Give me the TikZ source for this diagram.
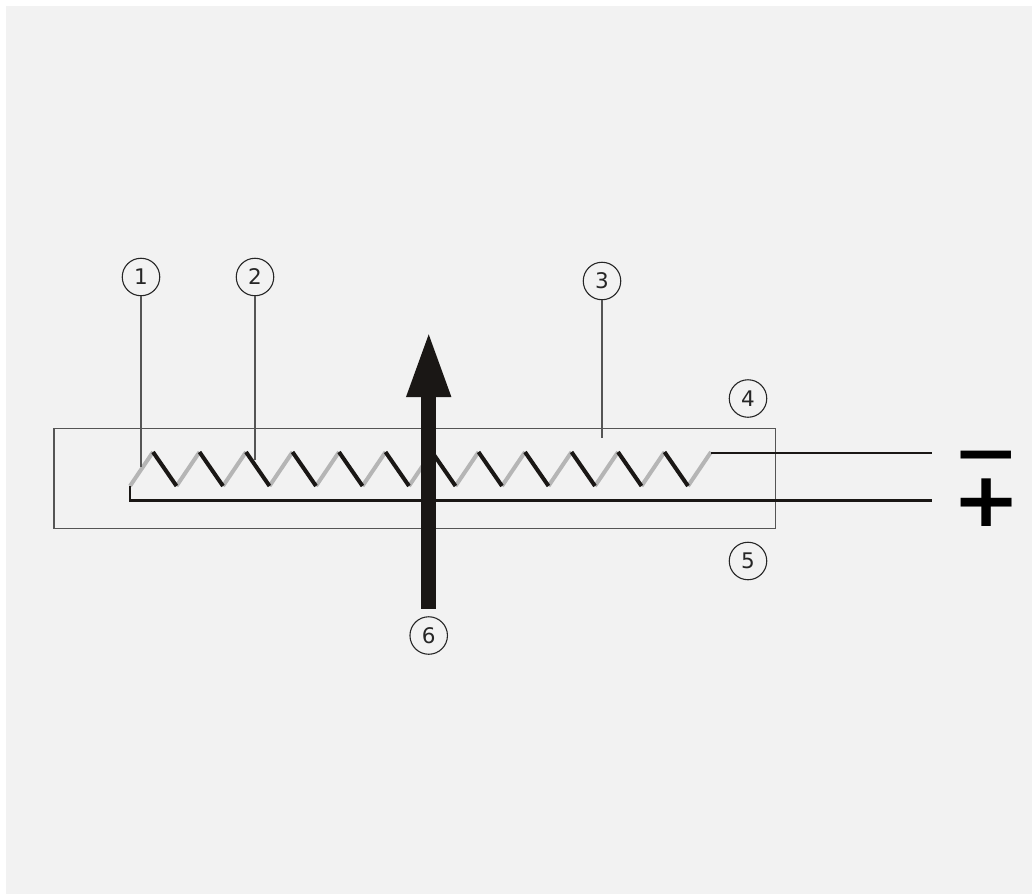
\documentclass[tikz,border=0pt]{standalone}
\usepackage{fontspec}
\setmainfont{DejaVu Sans}
\usepackage{xcolor}
\usetikzlibrary{arrows.meta,positioning,calc}
\definecolor{PanelGray}{HTML}{F2F2F2}
\definecolor{CoilGray}{HTML}{B5B5B5}
\definecolor{CoilDark}{HTML}{1A1715}
\definecolor{LeaderGray}{HTML}{555555}

\begin{document}
\begin{tikzpicture}[
  x=1pt,y=-1pt,
  num/.style={draw=black!85,line width=1.1pt,circle,inner sep=0pt,minimum size=37.5pt,font=\fontsize{21.5}{21.5}\selectfont,text=black!85},
  leader/.style={draw=LeaderGray,line width=1.2pt},
  tube/.style={draw=LeaderGray,line width=1.3pt},
  wire/.style={draw=CoilDark,line width=2.6pt},
  coilup/.style={draw=CoilGray,line width=4pt},
  coildown/.style={draw=CoilDark,line width=4pt},
  flux/.style={-{Triangle[length=67pt,width=40pt]},draw=CoilDark,fill=CoilDark,line width=15.5pt},
  pole/.style={text=black,inner sep=0pt,text height=10pt,text depth=0pt,font=\fontsize{76}{76}\selectfont\bfseries}
]
\useasboundingbox[fill=white] (0,0) rectangle (1032,894);
\fill[PanelGray] (6,6) rectangle (1032,894);
% tube
\node[tube,minimum width=721.5pt,minimum height=100pt,inner sep=0pt] (tube) at (414.75,478.5) {};
% numbers
\node[num] (n1) at (141,277) {1};
\node[num] (n2) at (255,277) {2};
\node[num] (n3) at (602,281) {3};
\node[num] (n4) at (748,398.5) {4};
\node[num] (n5) at (748,561) {5};
\node[num] (n6) at (428.7,635.5) {6};
% coil
\foreach \i in {0,...,12}{
  \coordinate (low\i) at ({130+46.5*\i},486);
  \coordinate (top\i) at ({153+46.5*\i},452);
  \draw[coilup] (low\i)--(top\i);
}
\foreach \i [evaluate=\i as \j using int(\i+1)] in {0,...,11}{
  \draw[coildown] (top\i)--(low\j);
}
% wires
\coordinate (minusend) at (932,453);
\coordinate (plusend) at (932,500.5);
\draw[wire] (top12|-minusend)--(minusend);
\draw[wire] (low0) |- (plusend);
% leaders
\coordinate (lead1) at (141,467);
\coordinate (lead2) at (255,460);
\coordinate (lead3) at (602,438);
\draw[leader] (n1)--(lead1);
\draw[leader] (n2)--(lead2);
\draw[leader] (n3)--(lead3);
% field arrow
\coordinate (fluxtip) at (428.7,330);
\draw[flux,shorten <=7.5pt] (n6.north)--(fluxtip);
% poles
\node[pole,xscale=1.06,yscale=0.9] (minus) at (986.7,471.7) {−};
\node[pole,xscale=1.07] (plus) at (986.5,521) {+};
\end{tikzpicture}
\end{document}
